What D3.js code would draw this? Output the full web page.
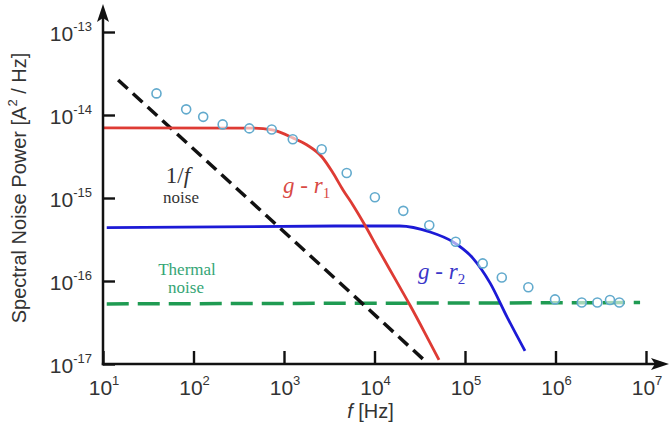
<!DOCTYPE html>
<html><head><meta charset="utf-8">
<script src="https://cdn.jsdelivr.net/npm/d3@7"></script>
<style>
html,body{margin:0;padding:0;background:#fff;}
svg{display:block;}
</style></head>
<body>
<svg id="chart" width="670" height="427"></svg>
<script>
// ---- data ----
const xTickExps = [1, 2, 3, 4, 5, 6, 7];
const yTickExps = [-17, -16, -15, -14, -13];

// g - r1 (red) : [f, S]
const gr1 = [[10, 7.0e-15], [450, 6.95e-15], [740, 6.6e-15], [1256, 5.3e-15], [1800, 4.35e-15],
             [2630, 3.12e-15], [3480, 2.0e-15], [4490, 1.25e-15], [5790, 8.2e-16], [7850, 4.7e-16],
             [10660, 2.57e-16], [16900, 1.06e-16], [24700, 5.1e-17], [36100, 2.36e-17], [51600, 1.12e-17]];
// g - r2 (blue)
const gr2 = [[11, 4.4e-16], [5400, 4.6e-16], [19000, 4.6e-16], [41000, 3.9e-16], [74000, 2.95e-16],
             [122000, 1.89e-16], [189000, 9.5e-17], [291000, 3.7e-17], [460000, 1.44e-17]];
// 1/f noise (black dashed)
const oneOverF = [[14.7, 2.64e-14], [35200, 1.12e-17]];
// thermal noise (green dashed)
const thermal = [[11, 5.3e-17], [8.6e6, 5.5e-17]];
// measured points (open circles)
const measured = [[39, 1.82e-14], [83, 1.17e-14], [128, 9.5e-15], [210, 7.7e-15], [414, 6.9e-15],
                  [732, 6.7e-15], [1250, 5.1e-15], [2610, 3.86e-15], [4930, 2.0e-15], [10100, 1.02e-15],
                  [20800, 7.0e-16], [40300, 4.7e-16], [78900, 2.97e-16], [157000, 1.63e-16],
                  [255000, 1.1e-16], [501000, 8.4e-17], [988000, 6.0e-17], [1.95e6, 5.5e-17],
                  [2.9e6, 5.5e-17], [4.0e6, 5.9e-17], [5.07e6, 5.5e-17]];

// ---- drawing ----
const svg = d3.select("#chart");
const x = d3.scaleLog().domain([10, 1e7]).range([103, 646]);
const y = d3.scaleLog().domain([1e-17, 1e-13]).range([364, 32]);
const line = d3.line().x(d => x(d[0])).y(d => y(d[1])).curve(d3.curveMonotoneX);

// curves
svg.append("path").datum(thermal).attr("d", line).attr("fill", "none")
  .attr("stroke", "#1f9b52").attr("stroke-width", 3.5).attr("stroke-dasharray", "22,9");
svg.append("path").datum(oneOverF).attr("d", line).attr("fill", "none")
  .attr("stroke", "#111").attr("stroke-width", 3.5).attr("stroke-dasharray", "13,7");
svg.append("path").datum(gr2).attr("d", line).attr("fill", "none")
  .attr("stroke", "#1c1ad6").attr("stroke-width", 2.8);
svg.append("path").datum(gr1).attr("d", line).attr("fill", "none")
  .attr("stroke", "#de3b34").attr("stroke-width", 2.8);

// circles
svg.append("g").selectAll("circle").data(measured).join("circle")
  .attr("cx", d => x(d[0])).attr("cy", d => y(d[1])).attr("r", 4.5)
  .attr("fill", "#fff").attr("fill-opacity", 0.6).attr("stroke", "#62aacd").attr("stroke-width", 1.6);

// axes
const xAxis = d3.axisBottom(x).tickValues(xTickExps.map(e => Math.pow(10, e))).tickSize(-13).tickFormat("");
const yAxis = d3.axisRight(y).tickValues(yTickExps.map(e => Math.pow(10, e))).tickSize(12).tickFormat("");
const gx = svg.append("g").attr("transform", "translate(0,364)").call(xAxis);
const gy = svg.append("g").attr("transform", "translate(103,0)").call(yAxis);
[gx, gy].forEach(g => {
  g.select(".domain").remove();
  g.selectAll(".tick line").attr("stroke", "#111").attr("stroke-width", 2.4);
});
// axis lines with arrows
svg.append("line").attr("x1", 103).attr("y1", 365.2).attr("x2", 103).attr("y2", 16)
  .attr("stroke", "#111").attr("stroke-width", 2.5);
svg.append("line").attr("x1", 101.8).attr("y1", 364).attr("x2", 657).attr("y2", 364)
  .attr("stroke", "#111").attr("stroke-width", 2.5);
svg.append("path").attr("d", "M103,4 L97,22 L103,18 L109,22 Z").attr("fill", "#111");
svg.append("path").attr("d", "M669,364 L651,358 L655,364 L651,370 Z").attr("fill", "#111");

const tickFont = "'Liberation Sans', Arial, sans-serif";
// y tick labels
const yl = svg.append("g").attr("font-family", tickFont).attr("fill", "#333");
yTickExps.forEach(e => {
  const t = yl.append("text").attr("x", 92).attr("y", y(Math.pow(10, e)) + 8.5)
    .attr("text-anchor", "end");
  t.append("tspan").attr("font-size", 21).text("10");
  t.append("tspan").attr("font-size", 13).attr("dy", -10).text(String(e));
});
// x tick labels
const xl = svg.append("g").attr("font-family", tickFont).attr("fill", "#333");
xTickExps.forEach(e => {
  const t = xl.append("text").attr("x", x(Math.pow(10, e)) + 1).attr("y", 395)
    .attr("text-anchor", "middle");
  t.append("tspan").attr("font-size", 21).text("10");
  t.append("tspan").attr("font-size", 13).attr("dy", -10).text(e);
});

// axis titles
const xt = svg.append("text").attr("x", x(1e4) - 4).attr("y", 418).attr("text-anchor", "middle")
  .attr("font-family", tickFont).attr("font-size", 20).attr("fill", "#333");
xt.append("tspan").attr("font-style", "italic").text("f");
xt.append("tspan").text(" [Hz]");

const yt = svg.append("text").attr("transform", "translate(26,188) rotate(-90)").attr("text-anchor", "middle")
  .attr("font-family", tickFont).attr("font-size", 20).attr("fill", "#333");
yt.append("tspan").text("Spectral Noise Power [A");
yt.append("tspan").attr("font-size", 13).attr("dy", -9).text("2");
yt.append("tspan").attr("dy", 9).text(" / Hz]");

// annotations
const serif = "'Liberation Serif', 'DejaVu Serif', serif";
const a1 = svg.append("text").attr("x", 178).attr("y", 183).attr("text-anchor", "middle")
  .attr("font-family", serif).attr("font-size", 23).attr("fill", "#333");
a1.append("tspan").text("1/");
a1.append("tspan").attr("font-style", "italic").text("f");
svg.append("text").attr("x", 181).attr("y", 203).attr("text-anchor", "middle")
  .attr("font-family", serif).attr("font-size", 17).attr("fill", "#333").text("noise");

const r1 = svg.append("text").attr("x", 283).attr("y", 193)
  .attr("font-family", serif).attr("font-size", 23).attr("font-style", "italic").attr("fill", "#d94a44");
r1.append("tspan").text("g - r");
r1.append("tspan").attr("font-size", 15).attr("font-style", "normal").attr("dy", 5).text("1");

const r2 = svg.append("text").attr("x", 418).attr("y", 279)
  .attr("font-family", serif).attr("font-size", 23).attr("font-style", "italic").attr("fill", "#3a36c8");
r2.append("tspan").text("g - r");
r2.append("tspan").attr("font-size", 15).attr("font-style", "normal").attr("dy", 5).text("2");

svg.append("text").attr("x", 187).attr("y", 275).attr("text-anchor", "middle")
  .attr("font-family", serif).attr("font-size", 17).attr("fill", "#35a575").text("Thermal");
svg.append("text").attr("x", 186).attr("y", 293).attr("text-anchor", "middle")
  .attr("font-family", serif).attr("font-size", 17).attr("fill", "#35a575").text("noise");
</script>
</body></html>
